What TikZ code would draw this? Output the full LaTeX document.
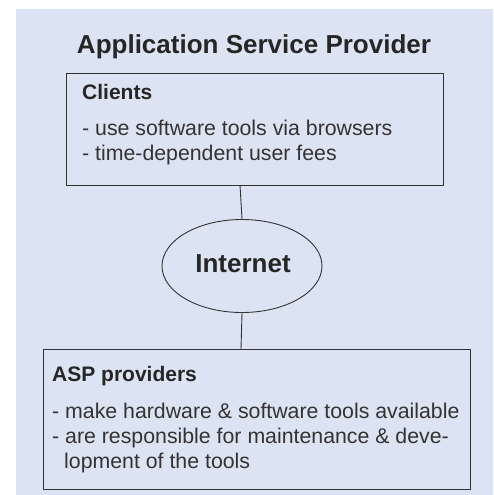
\documentclass[tikz,border=0pt]{standalone}
\usepackage{fontspec}
\setmainfont{Liberation Sans}
\usetikzlibrary{shapes.geometric}
\definecolor{panelblue}{HTML}{DCE3F2}
\definecolor{inkgray}{HTML}{333333}
\begin{document}
\begin{tikzpicture}[x=1pt,y=-1pt,
  box/.style={draw=inkgray,line width=0.9pt},
  link/.style={draw=inkgray,line width=0.9pt},
  headtext/.style={font=\fontsize{21}{25}\selectfont\bfseries,text=black!85,anchor=base west,inner sep=0pt},
  bodytext/.style={font=\fontsize{21.3}{25}\selectfont,text=black!80,anchor=base west,inner sep=0pt,align=left}]
  \useasboundingbox (0,0) rectangle (493,495);
  \fill[panelblue] (16,9) rectangle (493,495);
  % title
  \node[font=\fontsize{26}{30}\selectfont\bfseries,text=black!85,anchor=base,inner sep=0pt] (title) at (254,53) {Application Service Provider};
  % clients box
  \draw[box] (66,73) rectangle (443,185);
  \coordinate (ctop) at (240,185);
  \node[headtext] (clients) at (82,99) {Clients};
  \node[bodytext] (c1) at (82,135) {- use software tools via browsers};
  \node[bodytext] (c2) at (82,160) {- time-dependent user fees};
  % internet
  \node[draw=inkgray,line width=0.9pt,ellipse,minimum width=160,minimum height=93,inner sep=0pt] (net) at (242,266) {};
  \node[font=\fontsize{26}{30}\selectfont\bfseries,text=black!85,anchor=base,inner sep=0pt] (nettext) at (243,272) {Internet};
  % providers box
  \draw[box] (43,349) rectangle (470,489);
  \coordinate (ptop) at (241,349);
  \node[headtext] (asp) at (52,381) {ASP providers};
  \node[bodytext] (p1) at (52,418) {- make hardware \& software tools available};
  \node[bodytext] (p2) at (52,443) {- are responsible for maintenance \& deve-};
  \node[bodytext] (p3) at (64,468) {lopment of the tools};
  % connectors
  \draw[link] (ctop) -- (net.north);
  \draw[link] (net.south) -- (ptop);
\end{tikzpicture}
\end{document}
